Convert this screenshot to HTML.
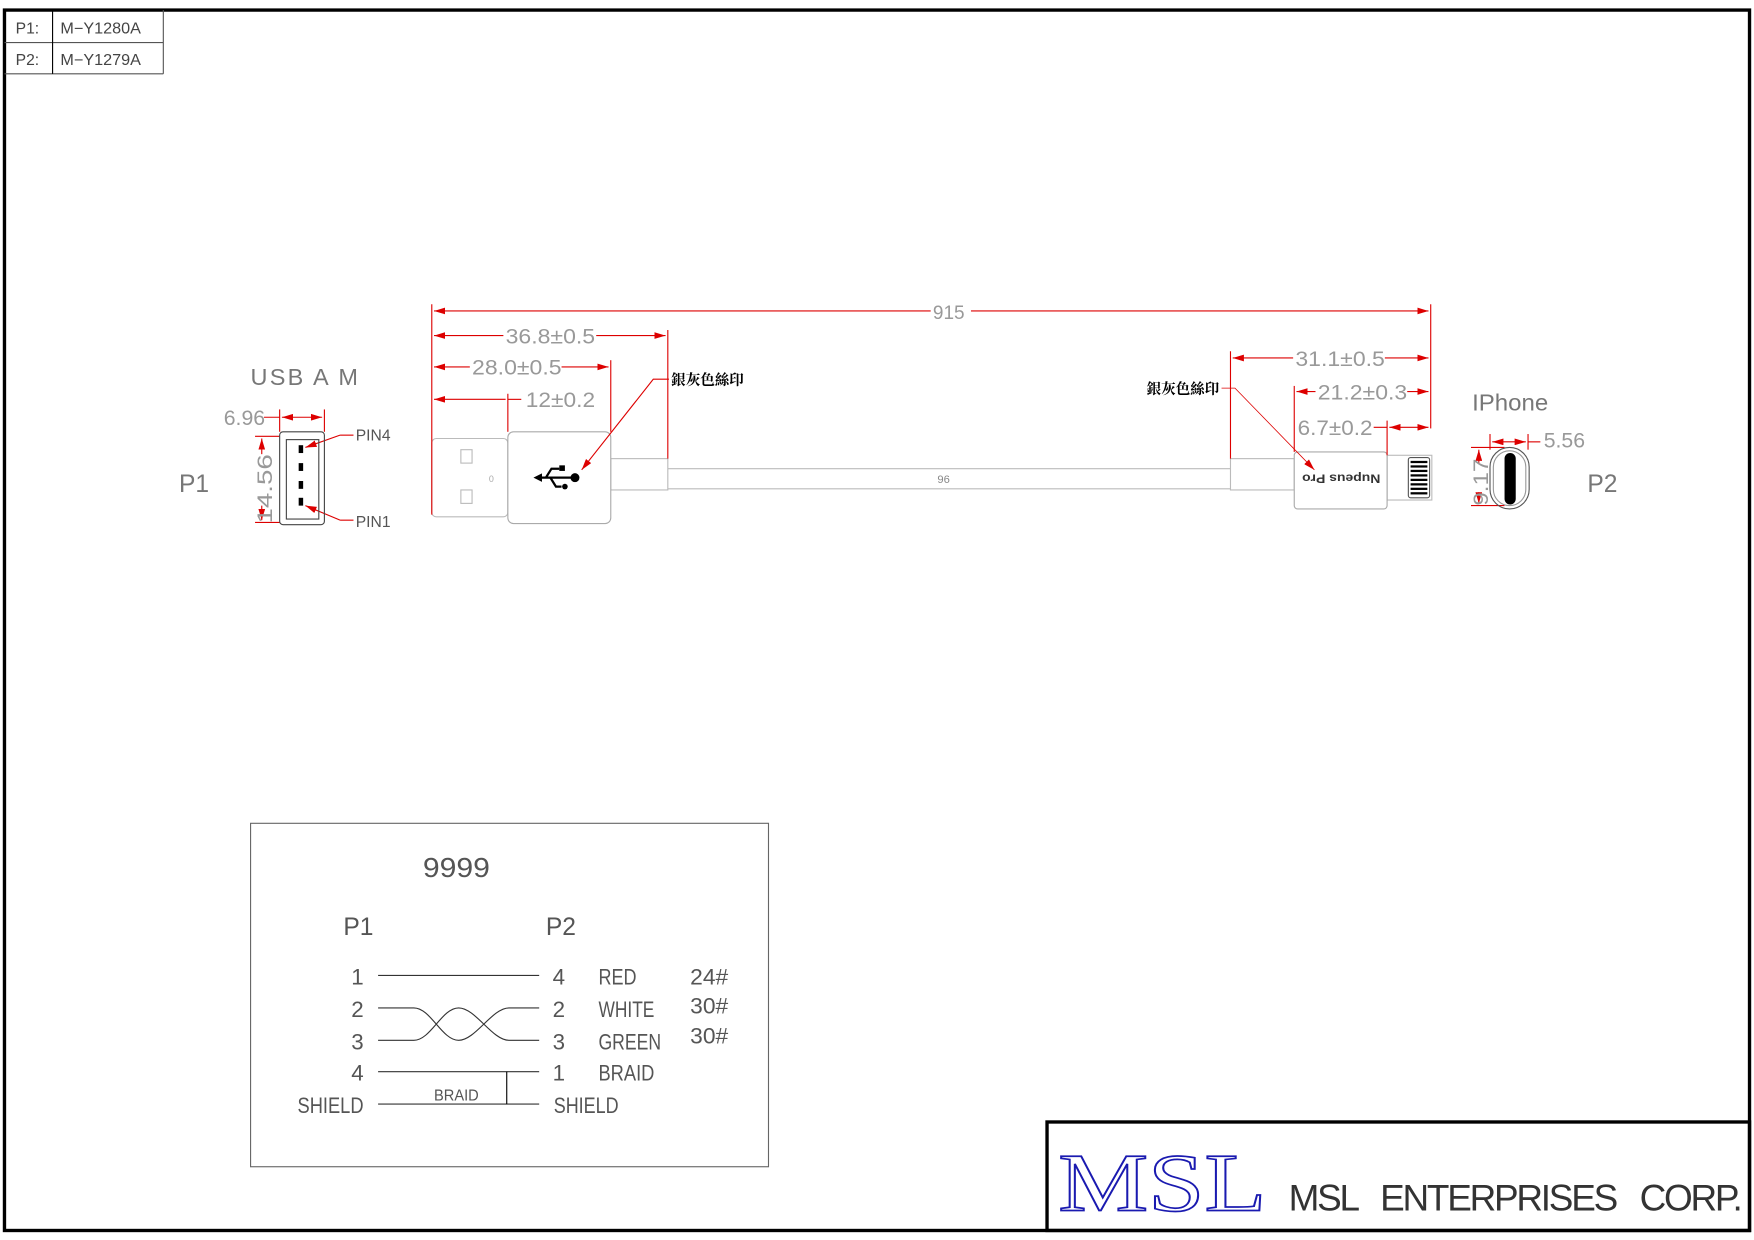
<!DOCTYPE html>
<html><head><meta charset="utf-8"><style>html,body{margin:0;padding:0;background:#fff}svg{display:block}</style></head>
<body>
<svg width="1754" height="1240" viewBox="0 0 1568 1108.5" preserveAspectRatio="none" xmlns="http://www.w3.org/2000/svg" font-family="'Liberation Sans', 'Noto Sans CJK TC', sans-serif">
<defs>
<marker id="a" viewBox="0 0 10 6" refX="10" refY="3" markerWidth="10" markerHeight="6" orient="auto-start-reverse" markerUnits="userSpaceOnUse"><path d="M0,0 L10,3 L0,6 z" fill="#d00"/></marker>
</defs>
<rect width="1568" height="1108.5" fill="#fff"/>
<rect x="4" y="9" width="1560" height="1091" fill="none" stroke="#000" stroke-width="3"/>
<!-- top-left table -->
<g stroke="#555" stroke-width="1" fill="none"><line x1="4" y1="38" x2="146" y2="38"/><line x1="4" y1="66" x2="146" y2="66"/><line x1="146" y1="9" x2="146" y2="66"/><line x1="47" y1="9" x2="47" y2="66" stroke="#000"/></g>
<g font-size="14" fill="#444"><text x="14" y="30">P1:</text><text x="14" y="58">P2:</text><text x="54" y="30" textLength="72" lengthAdjust="spacingAndGlyphs">M−Y1280A</text><text x="54" y="58" textLength="72" lengthAdjust="spacingAndGlyphs">M−Y1279A</text></g>

<!-- cable assembly -->
<g fill="none" stroke="#bbb" stroke-width="1">
<rect x="386" y="392" width="68" height="70" rx="4"/>
<rect x="412" y="402" width="10" height="12"/><rect x="412" y="438" width="10" height="12"/>
<rect x="546" y="410" width="51" height="28"/>
<line x1="597" y1="419" x2="1100" y2="419"/><line x1="597" y1="437" x2="1100" y2="437"/>
<rect x="1100" y="410" width="57" height="28"/>
<rect x="1240" y="407" width="40" height="40"/>
</g>
<rect x="454" y="386" width="92" height="82" rx="5" fill="#fff" stroke="#aaa"/>
<rect x="1157" y="404" width="83" height="51" rx="3" fill="#fff" stroke="#aaa"/>
<text x="437" y="431" font-size="8" fill="#aaa">0</text>
<text x="838" y="432" font-size="10" fill="#888">96</text>
<g stroke="#000" stroke-width="2" fill="#000">
<line x1="480" y1="427" x2="513" y2="427"/><path d="M478,427 l6,-3 v6z" stroke-width="1"/>
<polyline points="488,427 493,419 500,419" fill="none"/><rect x="500" y="416" width="5" height="5" stroke="none"/>
<polyline points="492,427 497,435 502,435" fill="none"/><circle cx="505" cy="435" r="2.5" stroke="none"/>
<circle cx="514" cy="427" r="4" stroke="none"/>
</g>
<text transform="translate(1234,424) rotate(180)" font-size="11" fill="#333" font-weight="bold" textLength="70" lengthAdjust="spacingAndGlyphs">Nupeus Pro</text>
<rect x="1259" y="409" width="19" height="36" rx="2" fill="#fff" stroke="#555"/>
<g fill="#000"><rect x="1261" y="412" width="15" height="2"/><rect x="1261" y="416" width="15" height="2"/><rect x="1261" y="420" width="15" height="2"/><rect x="1261" y="424" width="15" height="2"/><rect x="1261" y="428" width="15" height="2"/><rect x="1261" y="432" width="15" height="2"/><rect x="1261" y="436" width="15" height="2"/><rect x="1261" y="440" width="15" height="2"/></g>

<!-- dims red -->
<g stroke="#d00" stroke-width="1" fill="none">
<line x1="386" y1="272" x2="386" y2="460"/><line x1="1279" y1="272" x2="1279" y2="383"/>
<line x1="388" y1="278" x2="833" y2="278" marker-start="url(#a)"/><line x1="867" y1="278" x2="1277" y2="278" marker-end="url(#a)"/>
<line x1="597" y1="295" x2="597" y2="410"/>
<line x1="388" y1="300" x2="450" y2="300" marker-start="url(#a)"/><line x1="533" y1="300" x2="595" y2="300" marker-end="url(#a)"/>
<line x1="546" y1="322" x2="546" y2="386"/>
<line x1="388" y1="328" x2="420" y2="328" marker-start="url(#a)"/><line x1="502" y1="328" x2="544" y2="328" marker-end="url(#a)"/>
<line x1="454" y1="352" x2="454" y2="386"/>
<line x1="388" y1="357" x2="452" y2="357" marker-start="url(#a)"/><line x1="454" y1="357" x2="466" y2="357"/>
<line x1="1100" y1="314" x2="1100" y2="410"/>
<line x1="1102" y1="320" x2="1156" y2="320" marker-start="url(#a)"/><line x1="1238" y1="320" x2="1277" y2="320" marker-end="url(#a)"/>
<line x1="1157" y1="345" x2="1157" y2="404"/>
<line x1="1159" y1="350" x2="1176" y2="350" marker-start="url(#a)"/><line x1="1258" y1="350" x2="1277" y2="350" marker-end="url(#a)"/>
<line x1="1240" y1="376" x2="1240" y2="407"/>
<line x1="1228" y1="382" x2="1240" y2="382"/><line x1="1242" y1="382" x2="1277" y2="382" marker-start="url(#a)" marker-end="url(#a)"/>
<line x1="250" y1="366" x2="250" y2="386"/><line x1="290" y1="366" x2="290" y2="386"/>
<line x1="236" y1="373" x2="250" y2="373"/><line x1="252" y1="373" x2="288" y2="373" marker-start="url(#a)" marker-end="url(#a)"/>
<line x1="228" y1="390" x2="250" y2="390"/><line x1="228" y1="467" x2="250" y2="467"/>
<line x1="234" y1="392" x2="234" y2="406" marker-start="url(#a)"/><line x1="234" y1="452" x2="234" y2="465" marker-end="url(#a)"/>
<line x1="316" y1="389" x2="304" y2="389"/><line x1="304" y1="389" x2="273" y2="400" marker-end="url(#a)"/>
<line x1="316" y1="465" x2="304" y2="465"/><line x1="304" y1="465" x2="273" y2="452" marker-end="url(#a)"/>
<line x1="1332" y1="388" x2="1332" y2="402"/><line x1="1366" y1="388" x2="1366" y2="402"/>
<line x1="1334" y1="395" x2="1364" y2="395" marker-start="url(#a)" marker-end="url(#a)"/><line x1="1366" y1="395" x2="1377" y2="395"/>
<line x1="1315" y1="400" x2="1345" y2="400"/><line x1="1315" y1="452" x2="1345" y2="452"/>
<line x1="1322" y1="402" x2="1322" y2="414" marker-start="url(#a)"/><line x1="1322" y1="440" x2="1322" y2="450" marker-end="url(#a)"/>
<polyline points="598,339 584,339 520,420" marker-end="url(#a)"/>
<polyline points="1092,347 1104,347 1175,420" stroke-width="0.7" marker-end="url(#a)"/>
</g>
<g fill="#999" font-size="19">
<rect x="832" y="268" width="36" height="18" fill="#fff"/>
<text x="834" y="285" font-size="17">915</text>
<text x="452" y="307" textLength="80" lengthAdjust="spacingAndGlyphs">36.8±0.5</text>
<text x="422" y="335" textLength="80" lengthAdjust="spacingAndGlyphs">28.0±0.5</text>
<text x="470" y="364" textLength="62" lengthAdjust="spacingAndGlyphs">12±0.2</text>
<text x="1158" y="327" textLength="80" lengthAdjust="spacingAndGlyphs">31.1±0.5</text>
<text x="1178" y="357" textLength="80" lengthAdjust="spacingAndGlyphs">21.2±0.3</text>
<text x="1160" y="389" textLength="67" lengthAdjust="spacingAndGlyphs">6.7±0.2</text>
<text x="200" y="380" textLength="37" lengthAdjust="spacingAndGlyphs">6.96</text>
<text x="1380" y="400" textLength="37" lengthAdjust="spacingAndGlyphs">5.56</text>
<text transform="translate(243,468) rotate(-90)" textLength="62" lengthAdjust="spacingAndGlyphs">14.56</text>
<text transform="translate(1330,452) rotate(-90)" textLength="42" lengthAdjust="spacingAndGlyphs">9.17</text>
</g>
<g fill="#777" font-size="21">
<text x="224" y="344" textLength="96" lengthAdjust="spacing">USB A M</text>
<text x="160" y="440" font-size="22">P1</text>
<text x="1316" y="367" textLength="68" lengthAdjust="spacingAndGlyphs">IPhone</text>
<text x="1419" y="440" font-size="22">P2</text>
</g>
<g fill="#555" font-size="14"><text x="318" y="394">PIN4</text><text x="318" y="471">PIN1</text></g>
<g font-size="13" font-weight="bold" fill="#000" font-family="'Noto Serif CJK SC','Noto Sans CJK TC',serif"><text x="600" y="344">銀灰色絲印</text><text x="1025" y="352">銀灰色絲印</text></g>

<!-- USB face -->
<rect x="250" y="386" width="40" height="83" rx="3" fill="none" stroke="#444" stroke-width="1"/>
<rect x="256" y="393" width="29" height="71" fill="none" stroke="#444" stroke-width="1"/>
<g fill="#000"><rect x="267" y="398" width="4" height="7"/><rect x="267" y="414" width="4" height="7"/><rect x="267" y="430" width="4" height="7"/><rect x="267" y="445" width="4" height="7"/></g>

<!-- lightning face -->
<rect x="1332" y="400" width="35" height="55" rx="17.5" fill="none" stroke="#555"/>
<rect x="1335" y="403" width="29" height="49" rx="14.5" fill="none" stroke="#999"/>
<rect x="1345" y="405" width="10" height="46" rx="5" fill="#000"/>

<!-- wiring box -->
<rect x="224" y="736" width="463" height="307" fill="none" stroke="#666"/>
<g fill="#555" font-size="20">
<text x="378" y="784" font-size="25" textLength="60" lengthAdjust="spacingAndGlyphs">9999</text>
<text x="307" y="836" font-size="22">P1</text><text x="488" y="836" font-size="22">P2</text>
<text x="314" y="880">1</text><text x="314" y="909">2</text><text x="314" y="938">3</text><text x="314" y="966">4</text>
<text x="266" y="995" textLength="59" lengthAdjust="spacingAndGlyphs">SHIELD</text>
<text x="494" y="880">4</text><text x="494" y="909">2</text><text x="494" y="938">3</text><text x="494" y="966">1</text>
<text x="495" y="995" textLength="58" lengthAdjust="spacingAndGlyphs">SHIELD</text>
<text x="535" y="880" textLength="34" lengthAdjust="spacingAndGlyphs">RED</text><text x="535" y="909" textLength="50" lengthAdjust="spacingAndGlyphs">WHITE</text><text x="535" y="938" textLength="56" lengthAdjust="spacingAndGlyphs">GREEN</text><text x="535" y="966" textLength="50" lengthAdjust="spacingAndGlyphs">BRAID</text>
<text x="617" y="880" textLength="34" lengthAdjust="spacingAndGlyphs">24#</text><text x="617" y="906" textLength="34" lengthAdjust="spacingAndGlyphs">30#</text><text x="617" y="933" textLength="34" lengthAdjust="spacingAndGlyphs">30#</text>
<text x="388" y="984" font-size="14" textLength="40" lengthAdjust="spacingAndGlyphs">BRAID</text>
</g>
<g stroke="#333" stroke-width="1" fill="none">
<line x1="338" y1="872" x2="482" y2="872"/>
<path d="M338,901 H370 C385,901 395,930 410,930 C425,930 440,901 455,901 H482"/>
<path d="M338,930 H370 C385,930 395,901 410,901 C425,901 440,930 455,930 H482"/>
<line x1="338" y1="958" x2="482" y2="958"/><line x1="338" y1="987" x2="482" y2="987"/>
<line x1="453" y1="958" x2="453" y2="987" stroke="#000"/>
</g>

<!-- title block -->
<rect x="936" y="1003" width="628" height="97" fill="none" stroke="#000" stroke-width="3"/>
<text x="946" y="1082" font-family="'Liberation Serif',serif" font-size="74" fill="#fff" stroke="#1a1ab0" stroke-width="1.5" textLength="186" lengthAdjust="spacingAndGlyphs">MSL</text>
<text x="1152" y="1082" font-size="33" fill="#333" textLength="406" lengthAdjust="spacing" word-spacing="14">MSL ENTERPRISES CORP.</text>
</svg>
</body></html>
